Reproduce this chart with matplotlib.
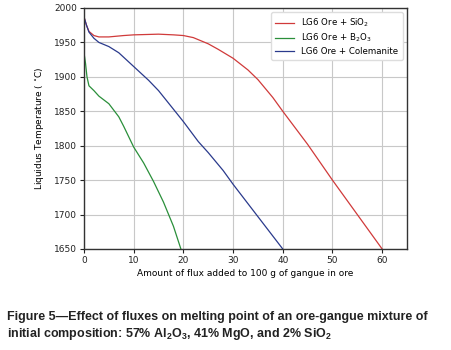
import matplotlib
matplotlib.use("Agg")
import matplotlib.pyplot as plt

# values
sio2_x = [0, 0.5, 1, 2, 3, 5, 8, 10, 15, 18, 20, 22, 25, 27, 30, 33, 35, 38, 40, 45, 50, 55, 60]
sio2_y = [1987, 1975, 1966, 1960, 1958, 1958, 1960, 1961, 1962, 1961, 1960, 1957, 1948, 1940,
          1927, 1910, 1896, 1870, 1850, 1802, 1750, 1700, 1650]

b2o3_x = [0, 0.3, 0.6, 1, 2, 3, 5, 7, 8, 10, 12, 14, 16, 18, 19.5]
b2o3_y = [1935, 1920, 1900, 1887, 1880, 1872, 1861, 1842, 1828, 1798, 1775, 1748, 1718, 1683, 1650]

cole_x = [0, 0.5, 1, 2, 3, 5, 7, 10, 13, 15, 18, 20, 23, 25, 28, 30, 35, 40]
cole_y = [1987, 1975, 1965, 1956, 1950, 1944, 1935, 1915, 1895, 1880, 1853, 1835, 1806, 1790,
          1764, 1744, 1697, 1650]

labels = [r"LG6 Ore + SiO$_2$", r"LG6 Ore + B$_2$O$_3$", "LG6 Ore + Colemanite"]
colors = ["#d03a3a", "#2a8f3a", "#2a3a8c"]

plt.rcParams["mathtext.default"] = "regular"

fig = plt.figure(figsize=(4.52, 3.5), dpi=100)
ax = fig.add_axes([84 / 452, 1 - 249 / 350, 323 / 452, 241 / 350])

ax.plot(sio2_x, sio2_y, color=colors[0], lw=0.9, label=labels[0])
ax.plot(b2o3_x, b2o3_y, color=colors[1], lw=0.9, label=labels[1])
ax.plot(cole_x, cole_y, color=colors[2], lw=0.9, label=labels[2])

ax.set_xlim(0, 65)
ax.set_ylim(1650, 2000)
ax.set_xticks([0, 10, 20, 30, 40, 50, 60])
ax.set_yticks([1650, 1700, 1750, 1800, 1850, 1900, 1950, 2000])
ax.grid(True, color="#c8c8c8", lw=0.8)
ax.set_axisbelow(True)
ax.tick_params(labelsize=6.5, length=3, width=0.8, pad=2, colors="#222222")
for s in ax.spines.values():
    s.set_color("#333333")
    s.set_linewidth(1.0)

ax.set_xlabel("Amount of flux added to 100 g of gangue in ore", fontsize=6.5, labelpad=3)
ax.set_ylabel("Liquidus Temperature ( $^{\\circ}$C)", fontsize=6.5, labelpad=6)

ax.legend(loc="upper right", fontsize=6.2, frameon=True, handlelength=2.2,
          borderpad=0.5, labelspacing=0.3, framealpha=1, edgecolor="#dddddd")

fig.text(7 / 452, 1 - 317 / 350,
         "Figure 5\u2014Effect of fluxes on melting point of an ore-gangue mixture of",
         fontsize=9, fontweight="bold", family="Liberation Sans", va="center", color="#222222")
fig.text(7 / 452, 1 - 334 / 350,
         "initial composition: 57% Al$_2$O$_3$, 41% MgO, and 2% SiO$_2$",
         fontsize=9, fontweight="bold", family="Liberation Sans", va="center", color="#222222")

fig.savefig("out.png", dpi=100)
